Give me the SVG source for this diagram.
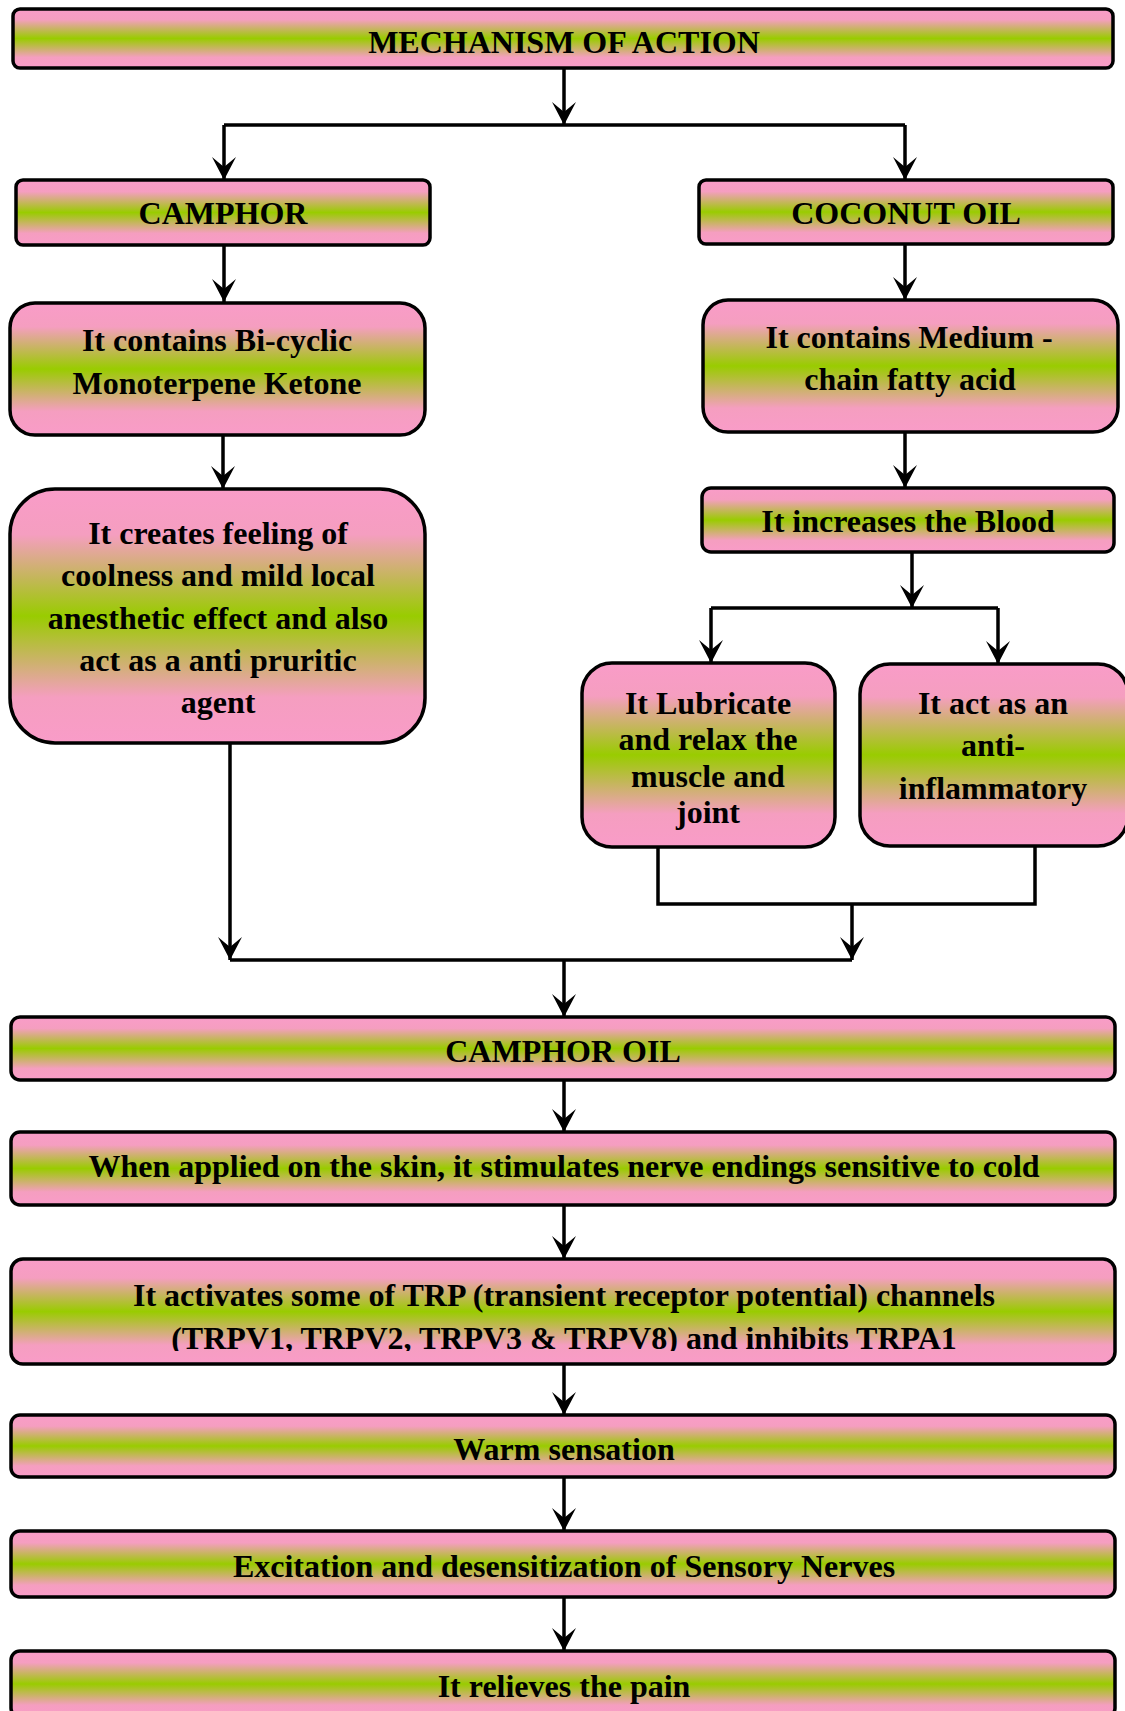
<svg xmlns="http://www.w3.org/2000/svg" width="1125" height="1711" viewBox="0 0 1125 1711">
<defs>
<linearGradient id="g" x1="0" y1="0" x2="0" y2="1">
<stop offset="0" stop-color="#F99CC8"/>
<stop offset="0.18" stop-color="#F59EC0"/>
<stop offset="0.5" stop-color="#99CC00"/>
<stop offset="0.82" stop-color="#F59EC0"/>
<stop offset="1" stop-color="#F99CC8"/>
</linearGradient>
<marker id="ah" markerUnits="userSpaceOnUse" markerWidth="26" markerHeight="26" viewBox="-24 -13 26 26" refX="0" refY="0" orient="auto">
<path d="M0,0 L-23,-12 L-13,0 L-23,12 Z" fill="#000"/>
</marker>
<clipPath id="trpclip"><rect x="0" y="1259" width="1125" height="92"/></clipPath>
</defs>
<style>
.box{fill:url(#g);stroke:#000;stroke-width:3.5}
.t{font-family:"Liberation Serif","Times New Roman",serif;font-weight:bold;font-size:32px;fill:#000;text-anchor:middle}
.c{fill:none;stroke:#000;stroke-width:3.5}
.a{fill:none;stroke:#000;stroke-width:3.5;marker-end:url(#ah)}
</style>

<g id="connectors">
<line class="a" x1="564" y1="69" x2="564" y2="125"/>
<polyline class="c" points="224,125 905,125"/>
<line class="a" x1="224" y1="125" x2="224" y2="180"/>
<line class="a" x1="905" y1="125" x2="905" y2="180"/>
<line class="a" x1="224" y1="245" x2="224" y2="302"/>
<line class="a" x1="905" y1="244" x2="905" y2="300"/>
<line class="a" x1="223" y1="435" x2="223" y2="489"/>
<line class="a" x1="905" y1="432" x2="905" y2="488"/>
<line class="a" x1="912" y1="552" x2="912" y2="608"/>
<polyline class="c" points="711,608 998,608"/>
<line class="a" x1="711" y1="608" x2="711" y2="663"/>
<line class="a" x1="998" y1="608" x2="998" y2="664"/>
<polyline class="c" points="658,847 658,904 1035,904 1035,846"/>
<line class="a" x1="852" y1="904" x2="852" y2="960"/>
<line class="a" x1="230" y1="743" x2="230" y2="960"/>
<polyline class="c" points="230,960 852,960"/>
<line class="a" x1="564" y1="960" x2="564" y2="1017"/>
<line class="a" x1="564" y1="1080" x2="564" y2="1132"/>
<line class="a" x1="564" y1="1205" x2="564" y2="1259"/>
<line class="a" x1="564" y1="1364" x2="564" y2="1415"/>
<line class="a" x1="564" y1="1477" x2="564" y2="1531"/>
<line class="a" x1="564" y1="1597" x2="564" y2="1651"/>
</g>

<g id="mechanism">
<rect class="box" x="13" y="9" width="1100" height="59" rx="7"/>
<text class="t" x="564" y="53">MECHANISM OF ACTION</text>
</g>
<g id="camphor">
<rect class="box" x="16" y="180" width="414" height="65" rx="7"/>
<text class="t" x="223" y="224">CAMPHOR</text>
</g>
<g id="coconut">
<rect class="box" x="699" y="180" width="414" height="64" rx="7"/>
<text class="t" x="906" y="224">COCONUT OIL</text>
</g>
<g id="bicyclic">
<rect class="box" x="10" y="303" width="415" height="132" rx="25"/>
<text class="t" x="217" y="351">It contains Bi-cyclic</text>
<text class="t" x="217" y="394">Monoterpene Ketone</text>
</g>
<g id="coolness">
<rect class="box" x="10" y="489" width="415" height="254" rx="45"/>
<text class="t" x="218" y="544">It creates feeling of</text>
<text class="t" x="218" y="586">coolness and mild local</text>
<text class="t" x="218" y="629">anesthetic effect and also</text>
<text class="t" x="218" y="671">act as a anti pruritic</text>
<text class="t" x="218" y="713">agent</text>
</g>
<g id="medium">
<rect class="box" x="703" y="300" width="415" height="132" rx="25"/>
<text class="t" x="909" y="348">It contains Medium -</text>
<text class="t" x="910" y="390">chain fatty acid</text>
</g>
<g id="blood">
<rect class="box" x="702" y="488" width="412" height="64" rx="9"/>
<text class="t" x="908" y="532">It increases the Blood</text>
</g>
<g id="lubricate">
<rect class="box" x="582" y="663" width="253" height="184" rx="30"/>
<text class="t" x="708" y="714">It Lubricate</text>
<text class="t" x="708" y="750">and relax the</text>
<text class="t" x="708" y="787">muscle and</text>
<text class="t" x="708" y="823">joint</text>
</g>
<g id="antiinflammatory">
<rect class="box" x="860" y="664" width="268" height="182" rx="30"/>
<text class="t" x="993" y="714">It act as an</text>
<text class="t" x="993" y="756">anti-</text>
<text class="t" x="993" y="799">inflammatory</text>
</g>
<g id="camphoroil">
<rect class="box" x="11" y="1017" width="1104" height="63" rx="9"/>
<text class="t" x="563" y="1062">CAMPHOR OIL</text>
</g>
<g id="applied">
<rect class="box" x="11" y="1132" width="1104" height="73" rx="9"/>
<text class="t" x="564" y="1177">When applied on the skin, it stimulates nerve endings sensitive to cold</text>
</g>
<g id="trp">
<rect class="box" x="11" y="1259" width="1104" height="105" rx="12"/>
<g clip-path="url(#trpclip)">
<text class="t" x="564" y="1306">It activates some of TRP (transient receptor potential) channels</text>
<text class="t" x="564" y="1349">(TRPV1, TRPV2, TRPV3 &amp; TRPV8) and inhibits TRPA1</text>
</g>
</g>
<g id="warm">
<rect class="box" x="11" y="1415" width="1104" height="62" rx="9"/>
<text class="t" x="564" y="1460">Warm sensation</text>
</g>
<g id="excitation">
<rect class="box" x="11" y="1531" width="1104" height="66" rx="9"/>
<text class="t" x="564" y="1577">Excitation and desensitization of Sensory Nerves</text>
</g>
<g id="pain">
<rect class="box" x="11" y="1651" width="1104" height="66" rx="9"/>
<text class="t" x="564" y="1697">It relieves the pain</text>
</g>
</svg>
